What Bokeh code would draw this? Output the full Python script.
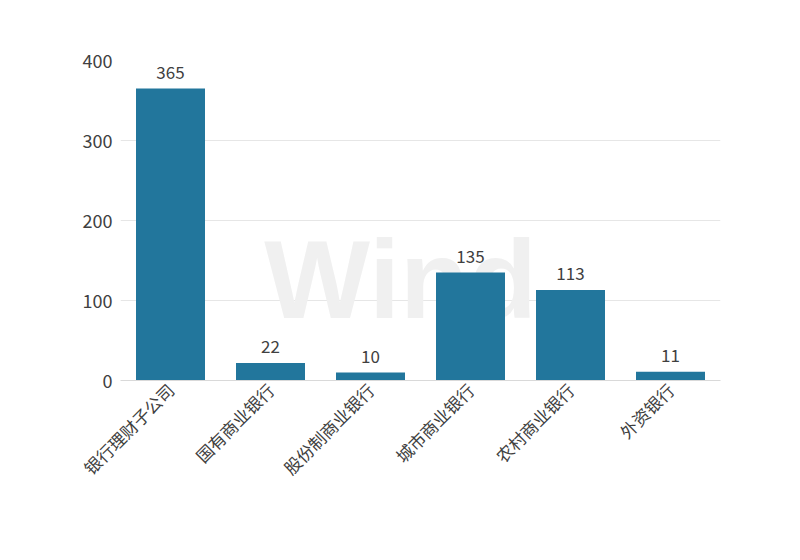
import math
from bokeh.plotting import figure
from bokeh.models import ColumnDataSource, Label, FixedTicker
from bokeh.core.properties import value
from bokeh.embed import file_html
from bokeh.resources import INLINE

categories = ["银行理财子公司", "国有商业银行", "股份制商业银行", "城市商业银行", "农村商业银行", "外资银行"]
counts = [365, 22, 10, 135, 113, 11]
y_ticks = [0, 100, 200, 300, 400]

FONT = "Noto Sans CJK SC"
TEXT_COLOR = "#404040"

src = ColumnDataSource(data=dict(cat=categories, n=counts, lab=[str(v) for v in counts]))

p = figure(x_range=categories, y_range=(0, 400), width=792, height=552,
           output_backend="svg", toolbar_location=None,
           min_border_left=120, min_border_right=72, min_border_top=60, min_border_bottom=172)
p.outline_line_color = None
p.background_fill_color = "white"
p.border_fill_color = "white"

# watermark
wm = Label(x=280, y=101, x_units="screen", y_units="screen", text="Wind",
           text_font="Liberation Sans", text_font_size="112px", text_font_style="bold",
           text_color="#f0f0f0", text_align="center", text_baseline="alphabetic", level="underlay")
p.add_layout(wm)

p.vbar(x="cat", top="n", width=0.69, source=src, color="#22769c", line_color=None)
p.text(x="cat", y="n", text="lab", source=src, y_offset=-10, text_align="center",
       text_baseline="bottom", text_font=value(FONT), text_font_size="17px", text_color=TEXT_COLOR)

p.yaxis.ticker = FixedTicker(ticks=y_ticks)
p.yaxis.axis_line_color = None
p.yaxis.major_tick_line_color = None
p.yaxis.major_tick_out = 0
p.yaxis.major_tick_in = 0
p.yaxis.minor_tick_line_color = None
p.yaxis.major_label_text_font = FONT
p.yaxis.major_label_text_font_size = "18px"
p.yaxis.major_label_text_color = TEXT_COLOR
p.yaxis.major_label_standoff = 8

p.xaxis.axis_line_color = "#d9d9d9"
p.xaxis.major_tick_line_color = None
p.xaxis.major_tick_out = 0
p.xaxis.major_tick_in = 0
p.xaxis.minor_tick_line_color = None
p.xaxis.major_label_orientation = math.pi / 4
p.xaxis.major_label_text_font = FONT
p.xaxis.major_label_text_font_size = "17px"
p.xaxis.major_label_text_color = TEXT_COLOR
p.xaxis.major_label_standoff = 6

p.xgrid.grid_line_color = None
p.ygrid.grid_line_color = "#e6e6e6"
p.x_range.range_padding = 0

open("out.html", "w").write(file_html(p, INLINE))
